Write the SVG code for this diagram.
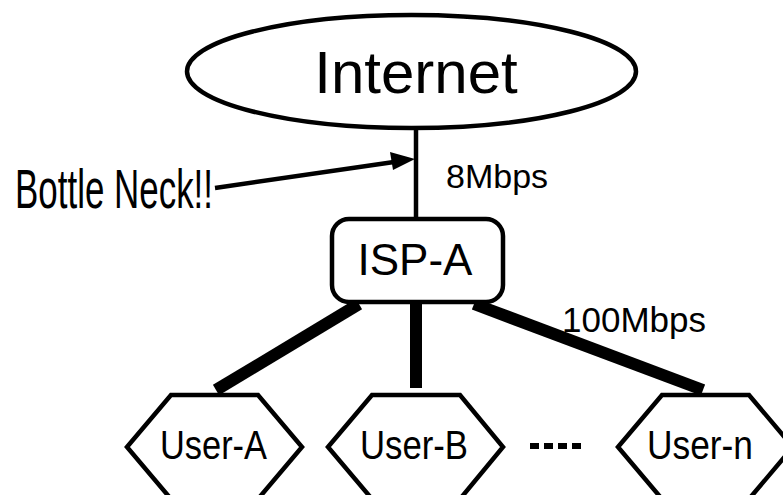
<svg xmlns="http://www.w3.org/2000/svg" width="783" height="495" viewBox="0 0 783 495">
  <style>
    text { font-family: "Liberation Sans", Arial, sans-serif; fill: #000; }
    .shape { fill: #fff; stroke: #000; stroke-width: 4.5; }
    .thin { stroke: #000; stroke-width: 4.5; fill: none; }
    .thick { stroke: #000; stroke-width: 12; fill: none; }
  </style>
  <defs>
    <marker id="arrow" markerWidth="10" markerHeight="8" refX="9" refY="4" orient="auto" markerUnits="userSpaceOnUse" viewBox="0 0 10 8">
      <path d="M0,0 L10,4 L0,8 Z" fill="#000"/>
    </marker>
  </defs>

  <g id="connectors">
    <line class="thin" x1="416" y1="128" x2="416" y2="220"/>
    <line class="thick" x1="359" y1="304" x2="216" y2="390"/>
    <line class="thick" x1="416" y1="304" x2="416" y2="388"/>
    <line class="thick" x1="474" y1="304" x2="703" y2="390"/>
    <line x1="215" y1="188" x2="394" y2="162" stroke="#000" stroke-width="4.5"/>
    <path d="M415,159 L393,170 L390,152 Z" fill="#000"/>
  </g>

  <g id="internet">
    <ellipse class="shape" cx="411.5" cy="71.5" rx="224.5" ry="56.5"/>
    <text x="416" y="93" font-size="60" text-anchor="middle">Internet</text>
  </g>

  <g id="isp-a">
    <rect class="shape" x="332" y="219" width="171" height="83" rx="17" ry="17"/>
    <text x="415" y="275" font-size="44" text-anchor="middle">ISP-A</text>
  </g>

  <g id="bottleneck-label">
    <text x="15" y="208" font-size="55" textLength="198" lengthAdjust="spacingAndGlyphs">Bottle Neck!!</text>
  </g>

  <g id="link-labels">
    <text x="446" y="188" font-size="34">8Mbps</text>
    <text x="562" y="332" font-size="35">100Mbps</text>
  </g>

  <g id="user-a">
    <polygon class="shape" points="127,447 171,395 258,395 302,447 258,499 171,499"/>
    <text x="160" y="459" font-size="40" textLength="107" lengthAdjust="spacingAndGlyphs">User-A</text>
  </g>

  <g id="user-b">
    <polygon class="shape" points="328,447 372,395 460,395 503,447 460,499 372,499"/>
    <text x="360" y="459" font-size="40" textLength="108" lengthAdjust="spacingAndGlyphs">User-B</text>
  </g>

  <g id="ellipsis">
    <line x1="530" y1="446" x2="582" y2="446" stroke="#000" stroke-width="6" stroke-dasharray="9,5"/>
  </g>

  <g id="user-n">
    <polygon class="shape" points="618,447 662,395 749,395 793,447 749,499 662,499"/>
    <text x="647" y="459" font-size="40" textLength="106" lengthAdjust="spacingAndGlyphs">User-n</text>
  </g>
</svg>
